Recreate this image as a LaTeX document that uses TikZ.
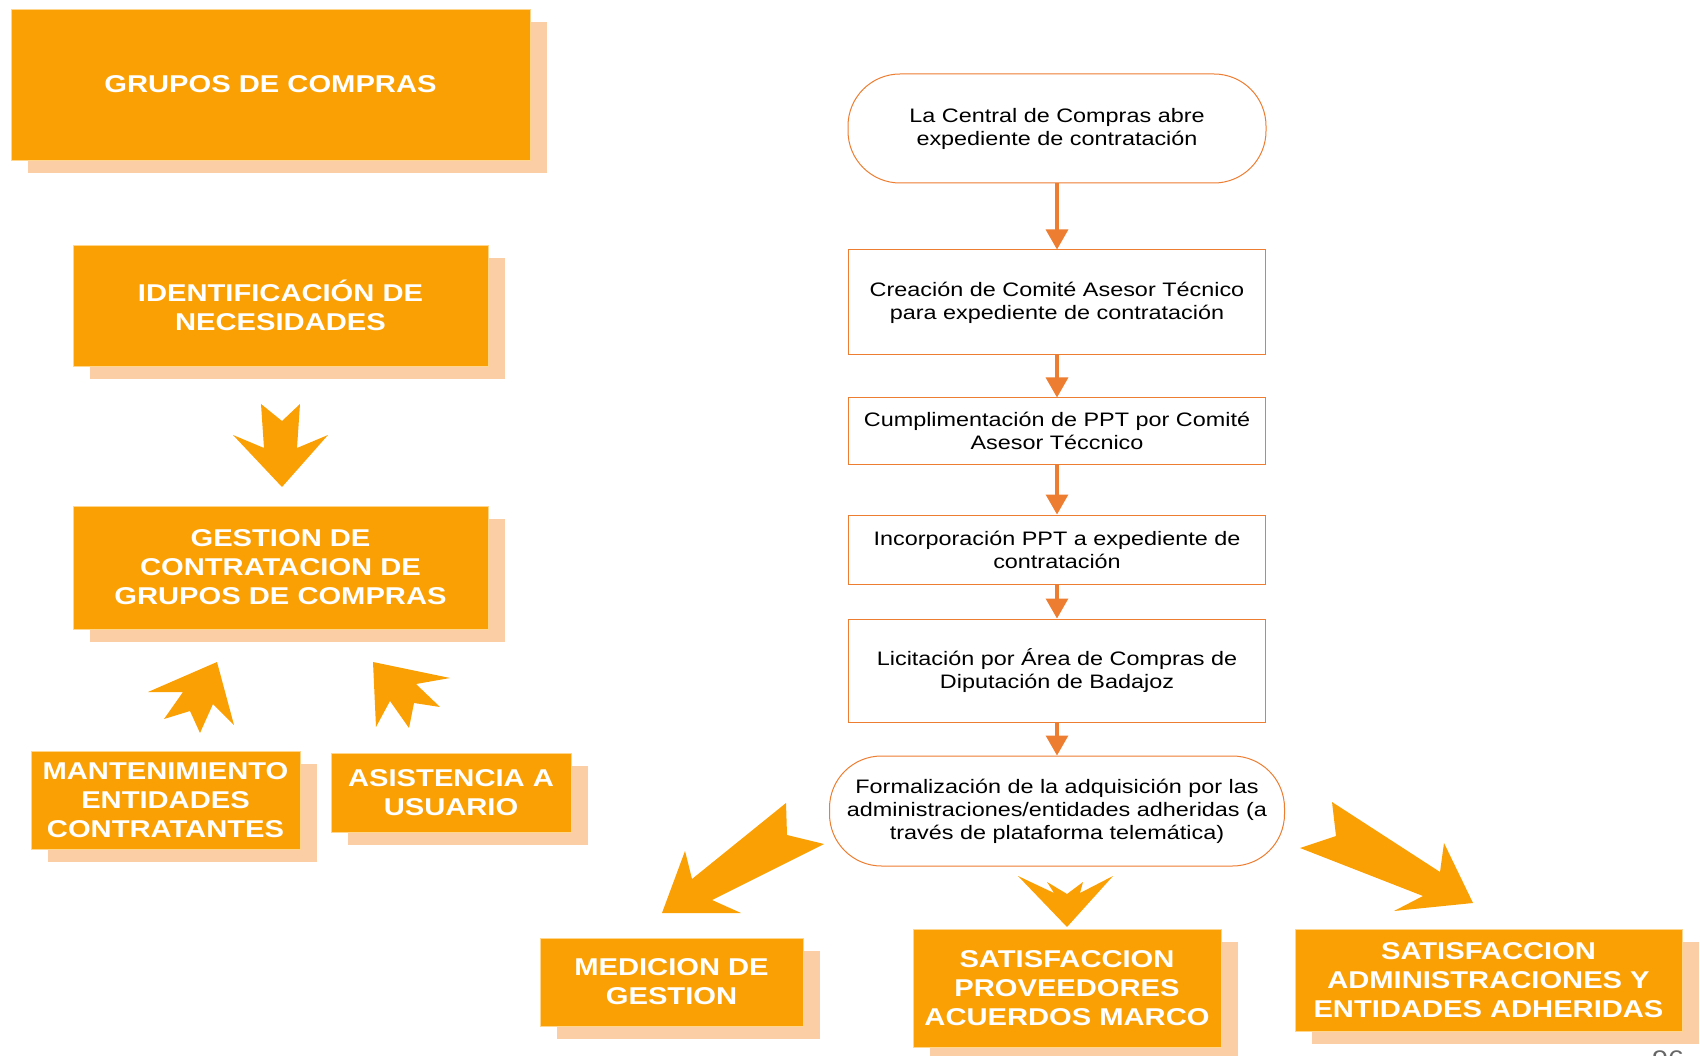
\documentclass[tikz,border=0pt]{standalone}
\usepackage{fontspec}
\setmainfont{Liberation Sans}[FakeStretch=1.2]
\usetikzlibrary{shadows,arrows.meta}
\definecolor{boxorange}{RGB}{251,160,4}
\definecolor{shadeorange}{RGB}{251,206,166}
\definecolor{lineorange}{RGB}{237,125,49}
\begin{document}
\begin{tikzpicture}[x=1pt,y=-1pt,
    obox/.style = {fill=boxorange, draw={rgb,255:red,255;green,214;blue,140}, line width=0.8pt, text=white,
        font=\fontsize{24.3}{29}\selectfont\bfseries, align=center, inner sep=0pt,
        copy shadow={shadow xshift=17pt, shadow yshift=-13pt, fill=shadeorange, draw=none}},
    flow/.style = {draw=lineorange, line width=1pt, fill=white, align=center,
        font=\fontsize{19.5}{23}\selectfont, inner sep=0pt, minimum width=417pt},
    term/.style = {flow, rounded corners=52pt},
    link/.style = {draw=lineorange, line width=3.2pt, -{Triangle[width=22pt,length=20pt]}},
    bigarrow/.style = {fill=boxorange}]
\useasboundingbox (0,0) rectangle (1700,1056);

% left column
\node[obox, minimum width=519pt, minimum height=151pt] (g1) at (270.5,84.5) {GRUPOS DE COMPRAS};
\node[obox, minimum width=415pt, minimum height=121pt] (g2) at (280.5,305.5) {IDENTIFICACIÓN DE\\NECESIDADES};
\node[obox, minimum width=415pt, minimum height=123pt] (g3) at (280.5,567.5) {GESTION DE\\CONTRATACION DE\\GRUPOS DE COMPRAS};
\node[obox, minimum width=269pt, minimum height=98pt] (g4) at (165.5,800) {MANTENIMIENTO\\ENTIDADES\\CONTRATANTES};
\node[obox, minimum width=240pt, minimum height=79pt] (g5) at (451,792.5) {ASISTENCIA A\\USUARIO};

% flowchart
\node[term, minimum width=418pt, minimum height=109pt] (1) at (1057,128.5) {La Central de Compras abre\\expediente de contratación};
\node[flow, minimum height=105pt] (2) at (1057,302.5) {Creación de Comité Asesor Técnico\\para expediente de contratación};
\node[flow, minimum height=66pt] (3) at (1057,431) {Cumplimentación de PPT por Comité\\Asesor Téccnico};
\node[flow, minimum height=69pt] (4) at (1057,549.5) {Incorporación PPT a expediente de\\contratación};
\node[flow, minimum height=103pt] (5) at (1057,670.5) {Licitación por Área de Compras de\\Diputación de Badajoz};
\node[term, minimum width=455pt, minimum height=110pt] (6) at (1057,811) {Formalización de la adquisición por las\\administraciones/entidades adheridas (a\\través de plataforma telemática)};

\draw[link] (1) -- (2);
\draw[link] (2) -- (3);
\draw[link] (3) -- (4);
\draw[link] (4) -- (5);
\draw[link] (5) -- (6);

% bottom row
\node[obox, minimum width=263pt, minimum height=88pt] (g6) at (671.5,982) {MEDICION DE\\GESTION};
\node[obox, minimum width=308pt, minimum height=118pt] (g7) at (1067,988) {SATISFACCION\\PROVEEDORES\\ACUERDOS MARCO};
\node[obox, minimum width=387pt, minimum height=102pt] (g8) at (1488.5,980) {SATISFACCION\\ADMINISTRACIONES Y\\ENTIDADES ADHERIDAS};

% big arrows
\fill[bigarrow] (261,404) -- (282,421) -- (300,404) -- (297,448) -- (328,435) -- (282,487) -- (233,435) -- (264,448) -- cycle;
\fill[bigarrow] (148,692) -- (217,662) -- (234,725) -- (213,704) -- (200,733) -- (190,711) -- (164,719) -- (183,692) -- cycle;
\fill[bigarrow] (373,662) -- (450,678) -- (416,684) -- (440,707) -- (414,703) -- (409,728) -- (390,701) -- (376,727) -- cycle;
\fill[bigarrow] (786,803) -- (787,835) -- (824,844) -- (712,900) -- (741,913) -- (662,913) -- (685,851) -- (692,879) -- cycle;
\fill[bigarrow] (1018,876) -- (1054,893) -- (1047,882) -- (1067,894) -- (1083,882) -- (1080,893) -- (1113,876) -- (1067,927) -- cycle;
\fill[bigarrow] (1332,802) -- (1440,872) -- (1444,843) -- (1473,903) -- (1394,911) -- (1423,896) -- (1300,848) -- (1336,836) -- cycle;

\node[text=black!60, font=\fontsize{24}{24}\selectfont, anchor=base west, inner sep=0pt] (pg) at (1652,1067) {96};
\end{tikzpicture}
\end{document}
